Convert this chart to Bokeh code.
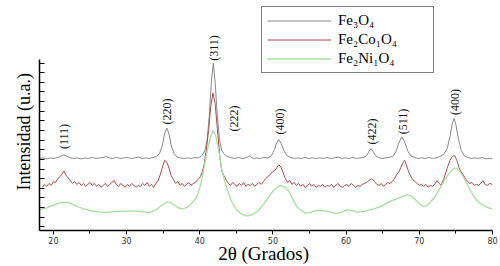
import math
from bokeh.plotting import figure
from bokeh.models import Range1d, FixedTicker, Legend, LegendItem, ColumnDataSource, Title
from bokeh.core.properties import value
from bokeh.embed import file_html
from bokeh.resources import INLINE

# ---------------- data (2theta in degrees, intensity in arbitrary units) ----------------
gray_x = [18.1, 18.6, 19.1, 19.6, 20.1, 20.6, 21.0, 21.4, 21.8, 22.3, 22.8, 23.3, 23.8, 24.3, 24.8,
          25.3, 25.8, 26.3, 26.8, 27.2, 27.6, 28.1, 28.6, 29.1, 29.6, 30.1, 30.6, 31.1, 31.6, 32.1,
          32.6, 33.1, 33.6, 34.1, 34.5, 34.9, 35.2, 35.5, 35.8, 36.1, 36.5, 36.9, 37.3, 37.8, 38.3,
          38.8, 39.3, 39.8, 40.3, 40.7, 41.0, 41.3, 41.6, 41.85, 42.1, 42.4, 42.7, 43.0, 43.4, 43.8,
          44.3, 44.8, 45.3, 45.8, 46.3, 46.8, 47.3, 47.8, 48.3, 48.8, 49.3, 49.8, 50.2, 50.5, 50.8,
          51.1, 51.5, 51.9, 52.4, 52.9, 53.4, 53.9, 54.4, 54.9, 55.4, 55.9, 56.4, 56.9, 57.4, 57.9,
          58.4, 58.9, 59.4, 59.9, 60.4, 60.9, 61.4, 61.9, 62.4, 62.8, 63.1, 63.4, 63.7, 64.0, 64.4,
          64.9, 65.4, 65.9, 66.4, 66.8, 67.2, 67.6, 68.0, 68.4, 68.8, 69.3, 69.8, 70.3, 70.8, 71.3,
          71.8, 72.3, 72.8, 73.3, 73.8, 74.2, 74.5, 74.75, 75.0, 75.3, 75.7, 76.1, 76.6, 77.1, 77.6,
          78.1, 78.6, 79.1, 79.6, 80.0]
gray_y = [7.1, 7.15, 7.05, 7.15, 7.1, 7.2, 7.3, 7.45, 7.35, 7.15, 7.1, 7.15, 7.05, 7.15, 7.1,
          7.2, 7.1, 7.15, 7.2, 7.3, 7.15, 7.1, 7.2, 7.1, 7.15, 7.2, 7.1, 7.15, 7.25, 7.1,
          7.15, 7.1, 7.2, 7.3, 7.6, 8.5, 9.7, 10.25, 9.6, 8.4, 7.6, 7.25, 7.15, 7.1, 7.15,
          7.1, 7.2, 7.15, 7.4, 7.9, 9.0, 11.5, 15.2, 17.0, 15.0, 11.5, 9.0, 7.9, 7.5, 7.3,
          7.15, 7.1, 7.2, 7.1, 7.15, 7.35, 7.1, 7.15, 7.1, 7.2, 7.15, 7.4, 8.0, 8.7, 9.05,
          8.7, 7.9, 7.4, 7.2, 7.1, 7.15, 7.1, 7.2, 7.1, 7.15, 7.1, 7.15, 7.1, 7.2, 7.1,
          7.15, 7.25, 7.1, 7.15, 7.1, 7.2, 7.1, 7.15, 7.2, 7.4, 7.8, 8.1, 7.8, 7.4, 7.2,
          7.1, 7.15, 7.2, 7.35, 7.8, 8.7, 9.35, 8.8, 7.9, 7.4, 7.2, 7.1, 7.15, 7.1, 7.2,
          7.1, 7.15, 7.3, 7.5, 8.1, 9.4, 10.7, 11.25, 10.6, 9.3, 8.0, 7.4, 7.2, 7.1, 7.15,
          7.1, 7.2, 7.05, 7.1, 7.05]

red_x = [18.5, 18.8, 19.1, 19.4, 19.7, 20.0, 20.3, 20.6, 20.9, 21.2, 21.45, 21.7, 22.0, 22.3, 22.6,
         22.9, 23.2, 23.5, 23.8, 24.1, 24.4, 24.7, 25.0, 25.3, 25.6, 25.9, 26.2, 26.5, 26.8, 27.1,
         27.4, 27.7, 28.0, 28.3, 28.6, 28.9, 29.2, 29.5, 29.8, 30.1, 30.4, 30.7, 31.0, 31.3, 31.6,
         31.9, 32.2, 32.5, 32.8, 33.1, 33.4, 33.7, 34.0, 34.3, 34.6, 34.9, 35.2, 35.5, 35.8, 36.1,
         36.4, 36.7, 37.0, 37.3, 37.6, 37.9, 38.2, 38.5, 38.8, 39.1, 39.4, 39.7, 40.0, 40.3, 40.6,
         40.9, 41.2, 41.5, 41.8, 42.1, 42.4, 42.7, 43.0, 43.3, 43.6, 43.9, 44.2, 44.5, 44.8, 45.1,
         45.4, 45.7, 46.0, 46.3, 46.6, 46.9, 47.2, 47.5, 47.8, 48.1, 48.4, 48.7, 49.0, 49.3, 49.6,
         49.9, 50.2, 50.5, 50.8, 51.1, 51.4, 51.7, 52.0, 52.3, 52.6, 52.9, 53.2, 53.5, 53.8, 54.1,
         54.4, 54.7, 55.0, 55.3, 55.6, 55.9, 56.2, 56.5, 56.8, 57.1, 57.4, 57.7, 58.0, 58.3, 58.6,
         58.9, 59.2, 59.5, 59.8, 60.1, 60.4, 60.7, 61.0, 61.3, 61.6, 61.9, 62.2, 62.5, 62.8, 63.1,
         63.5, 63.9, 64.2, 64.5, 64.8, 65.1, 65.4, 65.7, 66.0, 66.3, 66.6, 66.9, 67.2, 67.5, 67.8,
         68.0, 68.2, 68.5, 68.8, 69.1, 69.4, 69.7, 70.0, 70.3, 70.6, 70.9, 71.2, 71.5, 71.8, 72.1,
         72.4, 72.7, 73.0, 73.3, 73.6, 73.9, 74.2, 74.5, 74.8, 75.1, 75.4, 75.7, 76.0, 76.3, 76.6,
         76.9, 77.2, 77.5, 77.8, 78.1, 78.4, 78.7, 79.0, 79.3, 79.6, 80.0]
red_y = [4.1, 4.4, 4.2, 4.5, 4.3, 4.7, 4.6, 5.0, 5.2, 5.5, 5.8, 5.4, 5.1, 4.8, 4.5,
         4.7, 4.4, 4.6, 4.3, 4.5, 4.2, 4.4, 4.6, 4.3, 4.5, 4.2, 4.4, 4.1, 4.3, 4.5,
         4.2, 4.4, 4.6, 4.8, 4.4, 4.2, 4.5, 4.3, 4.1, 4.4, 4.2, 4.5, 4.3, 4.1, 4.3,
         4.2, 4.5, 4.3, 4.6, 4.2, 4.4, 4.1, 4.5, 4.8, 5.4, 6.2, 6.9, 6.7, 6.1, 5.3,
         4.9, 4.5, 4.7, 4.3, 4.5, 4.2, 4.4, 4.6, 4.3, 4.5, 4.6, 4.9, 5.1, 5.6, 6.5,
         8.0, 10.0, 12.5, 13.9, 12.8, 10.2, 7.6, 5.8, 5.3, 4.9, 4.5, 4.3, 4.6, 4.4, 4.2,
         4.5, 4.3, 4.6, 4.2, 4.4, 4.3, 4.5, 4.2, 4.4, 4.6, 4.4, 4.7, 5.0, 5.2, 5.4,
         5.7, 5.8, 6.1, 6.45, 6.2, 5.6, 5.0, 4.6, 4.8, 4.4, 4.6, 4.3, 4.5, 4.2, 4.4,
         4.1, 4.3, 4.5, 4.2, 4.4, 4.1, 4.3, 4.2, 4.4, 4.1, 4.3, 4.2, 4.4, 4.1, 4.3,
         4.5, 4.2, 4.1, 4.3, 4.4, 4.2, 4.5, 4.3, 4.1, 4.3, 4.2, 4.4, 4.5, 4.6, 4.8,
         5.0, 4.7, 4.4, 4.3, 4.5, 4.2, 4.4, 4.6, 4.5, 4.7, 5.0, 5.4, 5.7, 6.2, 6.7,
         6.9, 6.5, 5.8, 5.3, 4.9, 4.7, 4.5, 4.3, 4.4, 4.2, 4.4, 4.1, 4.3, 4.2, 4.4,
         4.8, 4.5, 4.3, 4.9, 5.6, 6.3, 6.9, 7.3, 7.4, 7.0, 6.2, 5.7, 5.4, 5.0, 4.7,
         4.5, 4.6, 4.3, 4.4, 4.3, 4.5, 4.8, 4.4, 4.3, 4.5, 4.4]

green_x = [18.1, 19.0, 20.0, 21.0, 21.6, 22.3, 23.0, 24.0, 25.0, 26.0, 27.0, 28.0, 29.0, 30.0, 31.0,
           32.0, 33.0, 34.0, 35.0, 35.6, 36.3, 37.0, 37.6, 38.3, 39.0, 39.6, 40.1, 40.5, 41.0, 41.45,
           41.8, 42.2, 42.6, 43.0, 43.5, 44.0, 44.4, 45.0, 45.6, 46.5, 47.3, 48.0, 48.8, 49.4, 50.2,
           51.0, 51.6, 52.1, 52.7, 53.3, 54.4, 55.2, 55.8, 56.6, 57.4, 58.2, 58.8, 59.5, 60.1, 60.8,
           61.5, 62.5, 63.8, 65.0, 66.1, 67.2, 68.3, 69.0, 69.5, 70.1, 70.6, 71.0, 71.5, 72.2, 72.9,
           73.5, 74.0, 74.8, 75.4, 75.9, 76.5, 77.0, 77.5, 78.1, 78.8, 79.4, 80.0]
green_y = [1.8, 1.95, 2.25, 2.5, 2.56, 2.45, 2.2, 1.9, 1.7, 1.55, 1.5, 1.55, 1.6, 1.62, 1.63,
           1.6, 1.45, 1.75, 2.35, 2.6, 2.4, 2.0, 1.85, 2.05, 2.5, 3.1, 4.3, 5.8, 7.8, 9.3,
           10.0, 9.4, 7.9, 6.0, 4.5, 3.3, 2.55, 1.8, 1.35, 1.1, 1.3, 1.69, 2.4, 3.07, 3.9,
           4.3, 4.15, 3.77, 2.9, 2.04, 1.41, 1.5, 1.69, 1.7, 1.62, 1.45, 1.38, 1.6, 1.76, 1.7,
           1.52, 1.6, 1.87, 2.2, 2.66, 3.0, 3.32, 3.15, 2.8, 2.35, 2.1, 2.2, 2.55, 3.2, 4.1,
           4.9, 5.5, 6.13, 5.9, 5.33, 4.5, 3.77, 3.1, 2.55, 2.2, 2.0, 1.87]

series_names = ["Fe\u2083O\u2084", "Fe\u2082Co\u2081O\u2084", "Fe\u2082Ni\u2081O\u2084"]

hkl_labels = ["(111)", "(220)", "(311)", "(222)", "(400)", "(422)", "(511)", "(400)"]
hkl_x = [21.4, 35.5, 41.9, 44.7, 50.9, 63.5, 67.8, 74.9]
hkl_y = [9.38, 11.97, 18.57, 11.25, 10.93, 9.89, 10.93, 12.97]

x_ticks = [20, 30, 40, 50, 60, 70, 80]
x_minor = [25, 35, 45, 55, 65, 75]
y_ticks = list(range(0, 18))

x_title = "2\u03b8  (Grados)"
y_title = "Intensidad (u.a.)"

SERIF = "serif"

# ---------------- figure ----------------
p = figure(width=500, height=266, output_backend="svg", toolbar_location=None,
           x_range=Range1d(18.1, 80.0), y_range=Range1d(-0.384, 23.5),
           min_border_left=39, min_border_right=8, min_border_top=0, min_border_bottom=36)
p.grid.visible = False
p.outline_line_color = None
p.background_fill_color = "white"
p.border_fill_color = "white"

r_gray = p.line(gray_x, gray_y, line_color="#8a8a8a", line_width=1.0)
r_red = p.line(red_x, red_y, line_color="#b04a4a", line_width=1.0)
r_green = p.line(green_x, green_y, line_color="#a6dea0", line_width=1.3)

src = ColumnDataSource(dict(x=hkl_x, y=hkl_y, t=hkl_labels))
p.text(x="x", y="y", text="t", source=src, angle=math.pi / 2,
       text_align="center", text_baseline="middle",
       text_font=value(SERIF), text_font_size="12px", text_color="#1a1a1a")

# x axis
xa = p.xaxis[0]
xa.ticker = FixedTicker(ticks=x_ticks, minor_ticks=x_minor)
xa.axis_line_color = "black"
xa.axis_line_width = 1.5
xa.major_tick_in = 0
xa.major_tick_out = 4
xa.minor_tick_in = 0
xa.minor_tick_out = 3
xa.major_tick_line_color = "black"
xa.minor_tick_line_color = "black"
xa.major_label_text_font = "DejaVu Sans"
xa.major_label_text_font_size = "8px"
xa.major_label_text_color = "#333333"
xa.major_label_standoff = 2
xa.axis_label = x_title
xa.axis_label_text_font = SERIF
xa.axis_label_text_font_size = "19px"
xa.axis_label_text_font_style = "normal"
xa.axis_label_text_color = "black"
xa.axis_label_standoff = -4

# y axis (no tick labels, ticks inside)
ya = p.yaxis[0]
ya.ticker = FixedTicker(ticks=y_ticks, minor_ticks=[])
ya.bounds = (-0.384, 17.37)
ya.axis_line_color = "black"
ya.axis_line_width = 1.5
ya.major_tick_in = 5
ya.major_tick_out = 0
ya.major_tick_line_color = "black"
ya.major_tick_line_width = 1.2
ya.minor_tick_line_color = None
ya.major_label_text_font_size = "0px"
ya.major_label_text_alpha = 0
ya.major_label_standoff = 0

# y title: starts near the foot of the axis and reads upwards
p.add_layout(Title(text=y_title, align="left", offset=40, standoff=12,
                   text_font=SERIF, text_font_size="18px", text_font_style="normal",
                   text_color="black"), "left")

legend = Legend(items=[LegendItem(label=series_names[0], renderers=[r_gray]),
                       LegendItem(label=series_names[1], renderers=[r_red]),
                       LegendItem(label=series_names[2], renderers=[r_green])],
                location=(222, 157), padding=5, spacing=2, margin=0,
                glyph_width=64, glyph_height=17, label_height=17, label_width=90,
                label_standoff=7, label_text_font=SERIF,
                label_text_font_size="15px", label_text_color="black",
                border_line_color="black", border_line_width=1.5,
                background_fill_color="white", background_fill_alpha=1.0)
p.add_layout(legend)

open("out.html", "w").write(file_html(p, INLINE))
